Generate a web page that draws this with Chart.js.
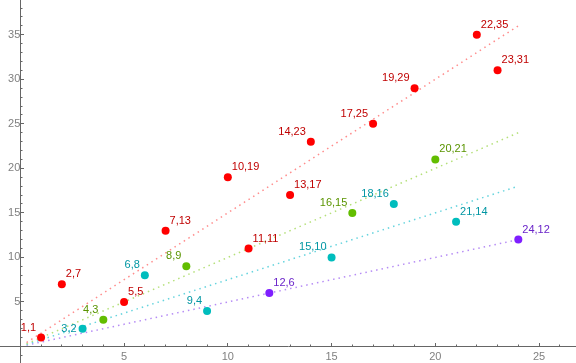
<!DOCTYPE html>
<html>
<head>
<meta charset="utf-8">
<script src="https://cdn.jsdelivr.net/npm/chart.js@4/dist/chart.umd.min.js"></script>
<style>
  body { margin: 0; background: #fff; }
  #wrap { width: 576px; height: 363px; }
</style>
</head>
<body>
<div id="wrap"><canvas id="myChart" width="576" height="363"></canvas></div>
<script>
// points, one list pair per colour group
var redX = [1, 2, 5, 7, 10, 11, 13, 14, 17, 19, 22, 23];
var redY = [1, 7, 5, 13, 19, 11, 17, 23, 25, 29, 35, 31];
var greenX = [4, 8, 16, 20];
var greenY = [3, 9, 15, 21];
var cyanX = [3, 6, 9, 15, 18, 21];
var cyanY = [2, 8, 4, 10, 16, 14];
var purpleX = [12, 24];
var purpleY = [6, 12];

// dotted reference lines (start / end)
var lineX = [0.3, 24];
var redLineY = [0.45, 36];
var greenLineY = [0.3, 24];
var cyanLineY = [0.225, 18];
var purpleLineY = [0.15, 12];

// tick labels
var xTickLabels = [5, 10, 15, 20, 25];
var yTickLabels = [5, 10, 15, 20, 25, 30, 35];

// which side each callout sits on (L = up-left, R = up-right, W = left)
var redSides = ['L', 'R', 'R', 'R', 'R', 'R', 'R', 'L', 'L', 'L', 'R', 'R'];
var greenSides = ['L', 'L', 'L', 'R'];
var cyanSides = ['W', 'L', 'L', 'L', 'L', 'R'];
var purpleSides = ['R', 'R'];

function pts(xs, ys) {
    return xs.map(function (x, i) { return {x: x, y: ys[i]}; });
}

function pointSet(xs, ys, col, labelCol, sides) {
    return {
        data: pts(xs, ys),
        backgroundColor: col,
        borderColor: col,
        pointRadius: 4,
        pointHoverRadius: 4,
        borderWidth: 0,
        showLine: false,
        order: 1,
        labelColor: labelCol,
        sides: sides
    };
}

function lineSet(ys, col) {
    return {
        data: pts(lineX, ys),
        borderColor: col,
        borderWidth: 1.5,
        borderDash: [1.5, 4],
        pointRadius: 0,
        showLine: true,
        order: 2
    };
}

var calloutPlugin = {
    id: 'callouts',
    afterDatasetsDraw: function (chart) {
        var ctx = chart.ctx;
        ctx.save();
        ctx.font = '11px "Liberation Sans", Arial, sans-serif';
        ctx.textBaseline = 'middle';
        chart.data.datasets.forEach(function (ds, di) {
            if (!ds.sides) return;
            var meta = chart.getDatasetMeta(di);
            meta.data.forEach(function (el, i) {
                var txt = ds.data[i].x + ',' + ds.data[i].y;
                var side = ds.sides[i];
                ctx.fillStyle = ds.labelColor;
                if (side === 'R') {
                    ctx.textAlign = 'left';
                    ctx.fillText(txt, el.x + 4, el.y - 10);
                } else if (side === 'L') {
                    ctx.textAlign = 'right';
                    ctx.fillText(txt, el.x - 5, el.y - 10);
                } else {
                    ctx.textAlign = 'right';
                    ctx.fillText(txt, el.x - 6, el.y);
                }
            });
        });
        ctx.restore();
    }
};

function tickDash(ctx) {
    var v = ctx.tick ? ctx.tick.value : 0;
    return v % 5 === 0 ? [] : [2.5, 10];
}

function tickCol(ctx) {
    return ctx.tick && ctx.tick.value === 0 ? 'rgba(0,0,0,0)' : '#666';
}

// axes sit inside the plot, so they should not take any room
function noRoom(s) {
    if (s.isHorizontal()) s.height = 0; else s.width = 0;
    s.paddingTop = 0;
    s.paddingBottom = 0;
    s.paddingLeft = 0;
    s.paddingRight = 0;
}

new Chart(document.getElementById('myChart'), {
    type: 'scatter',
    data: {
        datasets: [
            lineSet(redLineY, '#ff8c8c'),
            lineSet(greenLineY, '#b5e07a'),
            lineSet(cyanLineY, '#66d4de'),
            lineSet(purpleLineY, '#b68cf5'),
            pointSet(redX, redY, '#ff0000', '#c00000', redSides),
            pointSet(greenX, greenY, '#62bd00', '#5a9400', greenSides),
            pointSet(cyanX, cyanY, '#00bdbd', '#0096a3', cyanSides),
            pointSet(purpleX, purpleY, '#7f1fff', '#6a24c9', purpleSides)
        ]
    },
    options: {
        responsive: false,
        animation: false,
        layout: { padding: 0, autoPadding: false },
        plugins: {
            legend: { display: false },
            tooltip: { enabled: false }
        },
        scales: {
            x: {
                type: 'linear',
                min: -0.98,
                max: 26.78,
                position: { y: 0 },
                afterFit: noRoom,
                border: { display: true, color: '#666', width: 1 },
                grid: {
                    drawOnChartArea: false,
                    drawTicks: true,
                    tickLength: -4,
                    tickColor: tickCol,
                    tickBorderDash: tickDash
                },
                ticks: {
                    stepSize: 1,
                    includeBounds: false,
                    autoSkip: false,
                    maxRotation: 0,
                    padding: 8,
                    color: '#808080',
                    font: { family: '"Liberation Sans", Arial, sans-serif', size: 11 },
                    callback: function (v) { return xTickLabels.indexOf(v) >= 0 ? String(v) : ''; }
                }
            },
            y: {
                type: 'linear',
                min: -1.85,
                max: 38.9,
                position: { x: 0 },
                afterFit: noRoom,
                border: { display: true, color: '#666', width: 1 },
                grid: {
                    drawOnChartArea: false,
                    drawTicks: true,
                    tickLength: -4,
                    tickColor: tickCol,
                    tickBorderDash: tickDash
                },
                ticks: {
                    stepSize: 1,
                    includeBounds: false,
                    autoSkip: false,
                    padding: 7,
                    color: '#808080',
                    font: { family: '"Liberation Sans", Arial, sans-serif', size: 11 },
                    callback: function (v) { return yTickLabels.indexOf(v) >= 0 ? String(v) : ''; }
                }
            }
        }
    },
    plugins: [calloutPlugin]
});
</script>
</body>
</html>
